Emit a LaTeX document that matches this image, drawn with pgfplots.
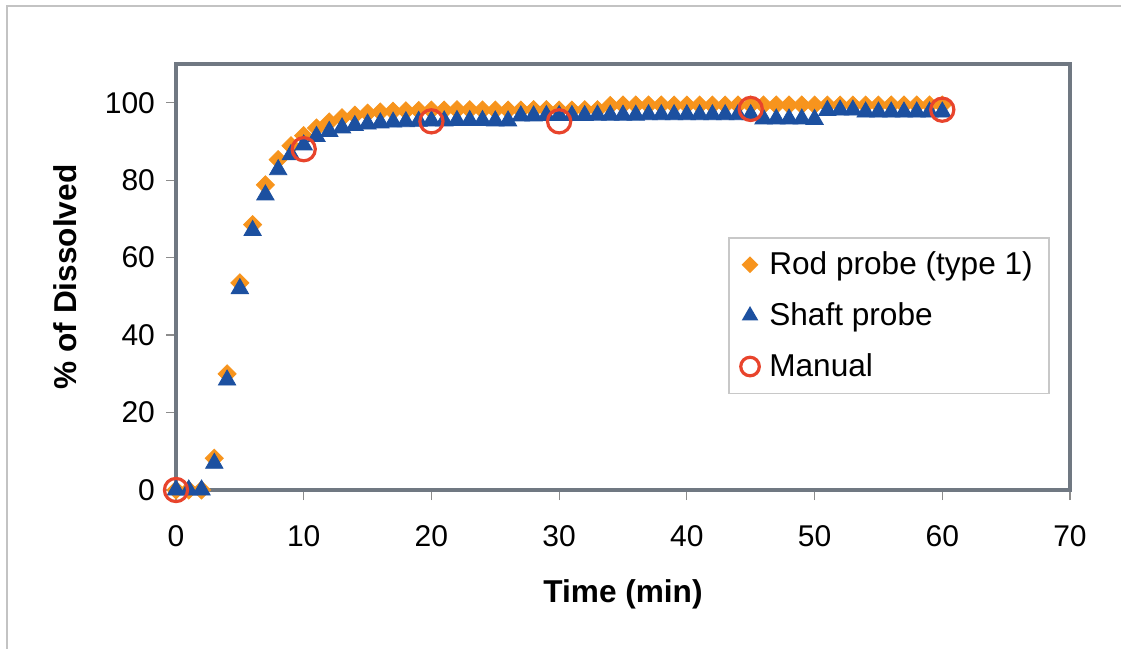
\documentclass[border=0pt]{standalone}
\usepackage{pgfplots}
\pgfplotsset{compat=1.18}
\usepackage{pgfplotstable}
\usepackage{fontspec}
\setmainfont{Liberation Sans}

\definecolor{rodorange}{RGB}{247,148,29}
\definecolor{shaftblue}{RGB}{28,80,160}
\definecolor{manualred}{RGB}{232,68,44}
\definecolor{axisgray}{RGB}{112,120,130}
\definecolor{tickgray}{RGB}{140,140,140}
\definecolor{legendgray}{RGB}{200,200,200}
\definecolor{framegray}{RGB}{195,195,195}

% time (min), rod probe, shaft probe
\pgfplotstableread{
t rod shaft
0 0 0
1 0 0
2 0 0
3 8.2 6.9
4 30.0 28.4
5 53.5 52.0
6 68.5 67.0
7 78.8 76.2
8 85.3 82.7
9 88.9 86.6
10 91.5 89.1
11 93.5 91.3
12 95.0 92.6
13 96.1 93.5
14 96.8 94.1
15 97.3 94.5
16 97.6 94.8
17 97.8 95.0
18 97.9 95.1
19 98.0 95.2
20 98.1 95.3
21 98.1 95.3
22 98.2 95.4
23 98.2 95.4
24 98.1 95.4
25 98.1 95.3
26 98.1 95.3
27 98.1 96.6
28 98.2 96.6
29 98.2 96.7
30 98.1 96.7
31 98.1 96.7
32 98.2 96.7
33 98.2 96.8
34 99.3 96.8
35 99.4 96.8
36 99.4 96.8
37 99.4 96.9
38 99.4 96.9
39 99.4 96.9
40 99.4 96.9
41 99.4 96.9
42 99.4 96.9
43 99.4 96.9
44 99.4 96.9
45 99.4 96.9
46 99.4 95.8
47 99.4 95.8
48 99.4 95.8
49 99.4 95.8
50 99.4 95.7
51 99.4 98.0
52 99.4 98.1
53 99.4 98.1
54 99.4 97.6
55 99.4 97.6
56 99.4 97.6
57 99.4 97.6
58 99.4 97.6
59 99.4 97.6
60 99.4 97.6
}\probedata

\pgfplotstableread{
t manual
0 0
10 88.0
20 95.2
30 95.2
45 98.4
60 98.2
}\manualdata

\begin{document}
\begin{tikzpicture}
\draw[framegray, line width=0.7pt] (3.5pt,0pt) -- (3.5pt,321.5pt) -- (560.5pt,321.5pt);
\begin{axis}[
  at={(88pt,79.5pt)}, anchor=south west,
  width=447pt, height=213pt, scale only axis,
  xmin=0, xmax=70, ymin=0, ymax=110,
  xtick={0,10,...,70}, ytick={0,20,...,100},
  tick pos=left, tick align=outside, major tick length=5pt,
  tick style={draw=tickgray, line width=0.6pt},
  axis line style={draw=axisgray, line width=2pt},
  clip=false,
  /pgf/number format/assume math mode=true,
  ticklabel style={font=\fontsize{15}{18}\selectfont},
  xticklabel style={yshift=-9pt},
  yticklabel style={xshift=-2pt},
  xlabel={Time (min)}, ylabel={\% of Dissolved},
  xlabel style={font=\bfseries\fontsize{15.8}{19}\selectfont, at={(axis description cs:0.5,-0.244)}, anchor=center},
  ylabel style={font=\bfseries\fontsize{15.8}{19}\selectfont, at={(axis description cs:-0.124,0.5)}, anchor=center},
  legend style={at={(0.6174,0.5939)}, anchor=north west, draw=legendgray, line width=0.8pt,
    font=\fontsize{15.8}{19}\selectfont, row sep=8.5pt, inner xsep=6pt, inner ysep=5pt,
    /tikz/every odd column/.append style={column sep=3pt}},
  legend cell align=left,
  legend image code/.code={\draw[#1] plot coordinates {(0pt,0pt)};},
  legend image post style={scale=0.8},
]
\addplot[only marks, mark=square*, mark size=3.2pt, mark options={rotate=45, fill=rodorange, draw=rodorange}]
  table[x=t, y=rod] {\probedata};
\addplot[only marks, mark=triangle*, mark size=5pt, mark options={fill=shaftblue, draw=shaftblue}]
  table[x=t, y=shaft] {\probedata};
\addplot[only marks, mark=o, mark size=5.8pt, mark options={draw=manualred, line width=1.6pt}]
  table[x=t, y=manual] {\manualdata};
\legend{Rod probe (type 1), Shaft probe, Manual}
\end{axis}
\pgfresetboundingbox
\path[use as bounding box] (0pt,0pt) rectangle (560.5pt,324.5pt);
\end{tikzpicture}
\end{document}
